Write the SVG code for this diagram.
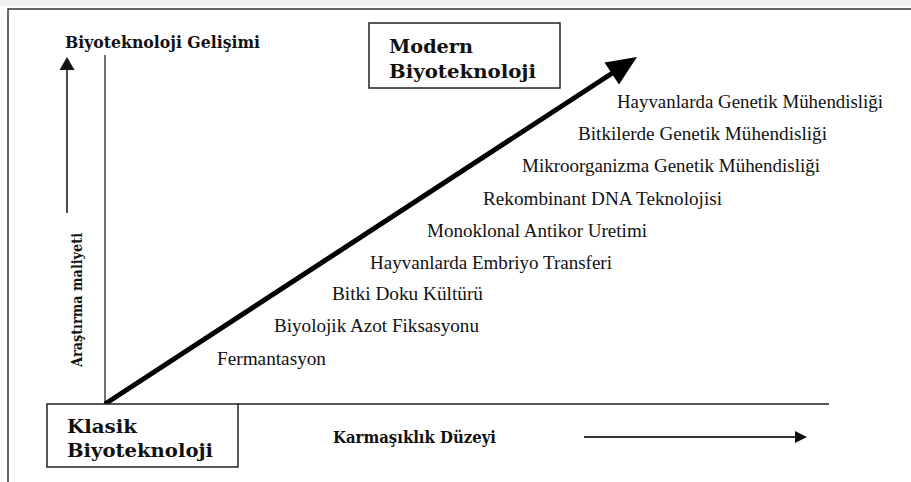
<svg xmlns="http://www.w3.org/2000/svg" width="911" height="482" viewBox="0 0 911 482">
<defs>
<style>
.b{font-weight:bold;fill:#111}
.r{font-size:19px;fill:#111}
.box{fill:#fff;stroke:#222;stroke-width:1.5}
.ax{stroke:#444;stroke-width:1.5;fill:none}
</style>
</defs>
<rect x="0" y="0" width="911" height="482" fill="#fff"/>
<rect x="0" y="0" width="911" height="6" fill="#efefef"/>
<g id="frame">
<path d="M8,482 V9 H911" fill="none" stroke="#333" stroke-width="1.5"/>
</g>
<g id="connectors">
<line class="ax" x1="105" y1="55" x2="105" y2="404"/>
<line x1="238" y1="404" x2="829" y2="404" stroke="#555" stroke-width="2"/>
<line x1="67" y1="213" x2="67" y2="68" stroke="#111" stroke-width="1.5"/>
<polygon points="67,57 74.5,70 59.5,70" fill="#111"/>
<line x1="584" y1="437" x2="798" y2="437" stroke="#333" stroke-width="2"/>
<polygon points="807,437 795,431 795,443" fill="#111"/>
<line x1="105" y1="404" x2="614" y2="72" stroke="#000" stroke-width="5"/>
<polygon points="637,57 619,84.5 604.5,62.5" fill="#000"/>
</g>
<g id="y-title" font-family="'DejaVu Serif', serif">
<text class="b" x="65" y="48" font-size="17" textLength="195" lengthAdjust="spacingAndGlyphs">Biyoteknoloji Gelişimi</text>
</g>
<g id="y-label" font-family="'DejaVu Serif', serif">
<text class="b" font-size="14" transform="translate(82,367) rotate(-90)" x="0" y="0" textLength="134" lengthAdjust="spacingAndGlyphs">Araştırma maliyeti</text>
</g>
<g id="x-label" font-family="'DejaVu Serif', serif">
<text class="b" x="333" y="443" font-size="16" textLength="163" lengthAdjust="spacingAndGlyphs">Karmaşıklık Düzeyi</text>
</g>
<g id="modern" font-family="'DejaVu Serif', serif">
<rect class="box" x="369" y="23" width="191" height="65"/>
<text class="b" x="389" y="53" font-size="18" textLength="84" lengthAdjust="spacingAndGlyphs">Modern</text>
<text class="b" x="389" y="78" font-size="18" textLength="147" lengthAdjust="spacingAndGlyphs">Biyoteknoloji</text>
</g>
<g id="klasik" font-family="'DejaVu Serif', serif">
<rect class="box" x="47" y="404" width="191" height="63"/>
<text class="b" x="67" y="433" font-size="18" textLength="70" lengthAdjust="spacingAndGlyphs">Klasik</text>
<text class="b" x="67" y="457" font-size="18" textLength="146" lengthAdjust="spacingAndGlyphs">Biyoteknoloji</text>
</g>
<g id="items" font-family="'Liberation Serif', 'Times New Roman', serif">
<text class="r" x="617" y="108" textLength="266" lengthAdjust="spacingAndGlyphs">Hayvanlarda Genetik Mühendisliği</text>
<text class="r" x="578" y="140" textLength="249" lengthAdjust="spacingAndGlyphs">Bitkilerde Genetik Mühendisliği</text>
<text class="r" x="522" y="172" textLength="298" lengthAdjust="spacingAndGlyphs">Mikroorganizma Genetik Mühendisliği</text>
<text class="r" x="483" y="205" textLength="239" lengthAdjust="spacingAndGlyphs">Rekombinant DNA Teknolojisi</text>
<text class="r" x="427" y="237" textLength="220" lengthAdjust="spacingAndGlyphs">Monoklonal Antikor Uretimi</text>
<text class="r" x="370" y="269" textLength="242" lengthAdjust="spacingAndGlyphs">Hayvanlarda Embriyo Transferi</text>
<text class="r" x="332" y="300" textLength="151" lengthAdjust="spacingAndGlyphs">Bitki Doku Kültürü</text>
<text class="r" x="274" y="332" textLength="205" lengthAdjust="spacingAndGlyphs">Biyolojik Azot Fiksasyonu</text>
<text class="r" x="217" y="365" textLength="109" lengthAdjust="spacingAndGlyphs">Fermantasyon</text>
</g>
</svg>
